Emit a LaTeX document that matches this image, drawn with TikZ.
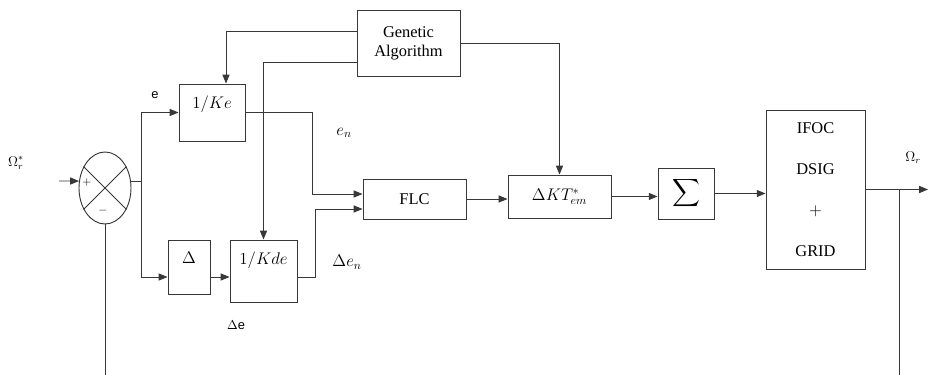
\documentclass[tikz,border=0pt]{standalone}
\usepackage{fontspec}
\setmainfont{Liberation Serif}
\newfontfamily\arialfont{Liberation Sans}
\usetikzlibrary{arrows.meta,shapes.geometric,calc}

\begin{document}
\begin{tikzpicture}[x=0.03cm, y=-0.03cm,
        line width=0.8pt, draw=black!78,
        blk/.style={draw=black!78, rectangle, inner sep=0pt, font=\fontsize{14}{17}\selectfont},
        toplbl/.style={anchor=north, inner sep=0pt, font=\fontsize{14}{17}\selectfont},
        arr/.style={-{Triangle[length=7.5pt, width=6pt]}},
        sig/.style={font=\arialfont\fontsize{11}{13}\selectfont}]
        % Setup the frame
        \useasboundingbox (0,0) rectangle (928,375);

        % Comparator
        \node[draw=black!78, ellipse, minimum width=1.56cm, minimum height=2.16cm, inner sep=0pt] (sum) at (105,188) {};
        \draw (sum.135) -- (sum.-45);
        \draw (sum.45) -- (sum.-135);
        \node (plus) at (87,183) {$+$};
        \node (minus) at (103,211) {$-$};

        % Blocks
        \node[blk, minimum width=1.98cm, minimum height=1.71cm, label={[toplbl, yshift=-10pt]north:$1/Ke$}] (ke) at (212,112.5) {};
        \node[blk, minimum width=1.26cm, minimum height=1.62cm, label={[toplbl, yshift=-10pt]north:$\Delta$}] (dlt) at (189,267) {};
        \node[blk, minimum width=2.01cm, minimum height=1.86cm, label={[toplbl, yshift=-10pt]north:$1/Kde$}] (kde) at (263.5,271) {};
        \node[blk, minimum width=3.09cm, minimum height=1.98cm, align=center] (ga) at (408.5,43) {Genetic\\[-1pt]Algorithm};
        \node[blk, minimum width=3.09cm, minimum height=1.2cm] (flc) at (414.5,199) {FLC};
        \node[blk, minimum width=3.09cm, minimum height=1.29cm] (dkt) at (559.5,196.5) {$\Delta KT_{em}^{*}$};
        \node[blk, minimum width=1.68cm, minimum height=1.53cm] (sg) at (686,193.5) {\scalebox{1.65}{$\displaystyle\sum$}};
        \node[blk, minimum width=2.97cm, minimum height=4.77cm, align=center] (ifoc) at (815.5,189.5) {IFOC\\[18pt]DSIG\\[18pt]$+$\\[18pt]GRID};

        % Input and branches
        \coordinate (in) at (59,181);
        \coordinate (split) at (141,181);
        \draw[arr] (in) -- (sum.165);
        \draw (sum.east |- split) -- (split);
        \draw[arr] (split) |- (ke.west);
        \draw[arr] (split) |- ($(dlt.west)+(0,10)$);
        \draw[arr] ($(dlt.east)+(0,10)$) -- ($(kde.west)+(0,6)$);

        % Genetic algorithm gains
        \draw[arr] ($(ga.west)+(0,-12)$) -| ($(ke.north)+(14,0)$);
        \draw[arr] ($(ga.west)+(0,19)$) -| (kde.north);
        \draw[arr] (ga.east) -| (dkt.north);

        % Normalised inputs to the FLC
        \draw[arr] (ke.east) -| ($(flc.west)+(-50,-5)$) -- ($(flc.west)+(0,-5)$);
        \draw[arr] ($(kde.east)+(0,6)$) -| ($(flc.west)+(-47,10)$) -- ($(flc.west)+(0,10)$);

        % Forward path
        \draw[arr] (flc.east) -- (flc.east -| dkt.west);
        \draw[arr] (dkt.east) -- (dkt.east -| sg.west);
        \draw[arr] (sg.east) -- (sg.east -| ifoc.west);
        \coordinate (out) at (928,189.5);
        \draw[arr] (ifoc.east) -- (out);

        % Feedback
        \coordinate (fb) at (899,189.5);
        \draw (fb) -- (899,375);
        \draw (sum.south) -- (105,375);

        % Signal labels
        \node[font=\large] (wref) at (16,163) {$\Omega_r^{*}$};
        \node[font=\large] (wr) at (913,158) {$\Omega_r$};
        \node[sig] (e) at (155,95) {e};
        \node[sig] (de) at (236,325) {$\Delta$e};
        \node[font=\Large] (en) at (344,133) {$e_n$};
        \node[font=\Large] (den) at (347,262) {$\Delta e_n$};
\end{tikzpicture}
\end{document}
